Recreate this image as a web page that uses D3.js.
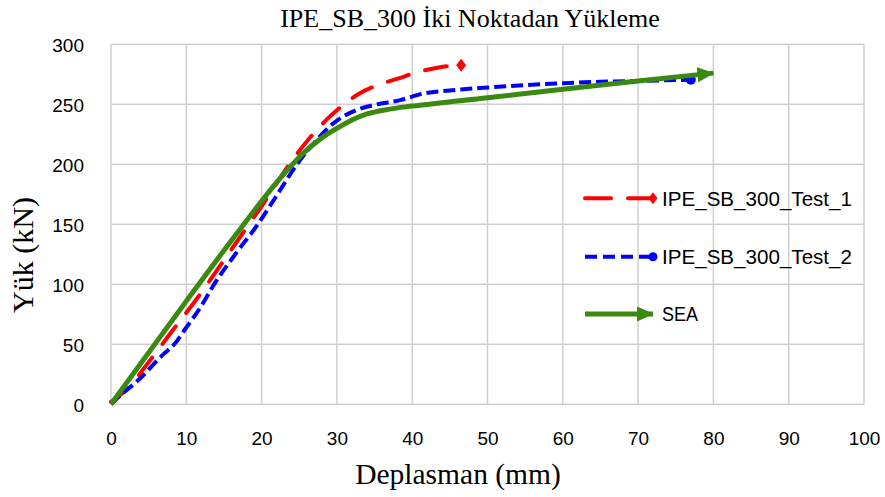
<!DOCTYPE html>
<html><head><meta charset="utf-8">
<script src="https://cdn.jsdelivr.net/npm/d3@7"></script>
<style>body{margin:0;background:#fff}</style>
</head><body>
<svg id="chart" width="885" height="497"></svg>
<script>
// ---- data ----
const xTicks = [0,10,20,30,40,50,60,70,80,90,100];
const yTicks = [0,50,100,150,200,250,300];
const seriesNames = ["IPE_SB_300_Test_1","IPE_SB_300_Test_2","SEA"];

const test1Disp = [0,2.5,4.5,8,11.4,15,18.2,20,23.8,26,28.6,30,33,35,38.4,40,43,45,46.5];
const test1Load = [2,15,31,60,88,120,149,165,201,219,237,245,259,265,272,275.5,280,282,282.5];

const test2Disp = [0,1,3.6,7,8.4,10,12,13.7,16.5,19.5,22,24.7,27,29.5,32.5,35,38.4,41.5,45,50,55,60,65,70,77];
const test2Load = [0,6,20,42,50,64,82,100,125,150,174,200,218,234,245,249.5,253.5,259,261.5,264,266,267.5,268.8,269.5,270.5];

const seaDisp = [0,10,18,22,25.5,28,30,32,34,37,40,50,60,70,80];
const seaLoad = [0,86,153,185,209,222,230,237,242,246,248.5,255.5,262.5,269.5,276];

// ---- layout ----
const svg = d3.select("#chart");
const L = 111, R = 864, T = 44.3, B = 404.3;
const x = d3.scaleLinear().domain([0,100]).range([L,R]);
const y = d3.scaleLinear().domain([0,300]).range([B,T]);
const gridColor = "#cfcfcf";
const sans = "'Liberation Sans', Arial, sans-serif";
const serif = "'Liberation Serif','Times New Roman',serif";

const defs = svg.append("defs");
defs.append("marker").attr("id","arrow").attr("markerUnits","userSpaceOnUse")
  .attr("viewBox","0 -8 17 16").attr("refX",16).attr("refY",0)
  .attr("markerWidth",17).attr("markerHeight",16).attr("orient","auto")
  .append("path").attr("d","M0,-7.5L17,0L0,7.5Z").attr("fill","#3a8a10");

// gridlines
svg.append("g").selectAll("line").data(xTicks).join("line")
  .attr("x1",d=>x(d)).attr("x2",d=>x(d)).attr("y1",T).attr("y2",B)
  .attr("stroke",gridColor).attr("stroke-width",1.5);
svg.append("g").selectAll("line").data(yTicks).join("line")
  .attr("x1",L).attr("x2",R).attr("y1",d=>y(d)).attr("y2",d=>y(d))
  .attr("stroke",gridColor).attr("stroke-width",1.5);

// axes (labels only)
const xAxis = svg.append("g").attr("transform",`translate(0,${B})`)
  .call(d3.axisBottom(x).tickValues(xTicks).tickSize(0));
const yAxis = svg.append("g").attr("transform",`translate(${L},0)`)
  .call(d3.axisLeft(y).tickValues(yTicks).tickSize(0).tickPadding(27));
[xAxis,yAxis].forEach(a=>{
  a.select(".domain").remove();
  a.selectAll("text").attr("font-family",sans).attr("font-size",19).attr("fill","#000");
});
yAxis.selectAll("text").attr("dy","0.36em");
xAxis.selectAll("text").attr("y",40.7).attr("dy",0);

// lines
const lineGen = d3.line().x(d=>x(d[0])).y(d=>y(d[1])).curve(d3.curveMonotoneX);
const s1 = test1Disp.map((d,i)=>[d,test1Load[i]]);
const s2 = test2Disp.map((d,i)=>[d,test2Load[i]]);
const s3 = seaDisp.map((d,i)=>[d,seaLoad[i]]);

const red = "#ff0000", blue = "#0000ff", green = "#3a8a10";
const diamond = (cx,cy,w,h)=>`M${cx},${cy-h/2}L${cx+w/2},${cy}L${cx},${cy+h/2}L${cx-w/2},${cy}Z`;
const e1 = s1[s1.length-1], e2 = s2[s2.length-1];

svg.append("path").datum(s1).attr("d",lineGen).attr("fill","none")
  .attr("stroke",red).attr("stroke-width",4).attr("stroke-linecap","round")
  .attr("stroke-dasharray","22,17");
svg.append("path").attr("d",diamond(x(e1[0]),y(e1[1]),10,13)).attr("fill",red);
svg.append("path").datum(s2).attr("d",lineGen).attr("fill","none")
  .attr("stroke",blue).attr("stroke-width",4).attr("stroke-dasharray","12,5");
svg.append("circle").attr("cx",x(e2[0])).attr("cy",y(e2[1])).attr("r",5).attr("fill",blue);
svg.append("path").datum(s3).attr("d",lineGen).attr("fill","none")
  .attr("stroke",green).attr("stroke-width",5).attr("marker-end","url(#arrow)");

// legend
const lg = svg.append("g");
const lgY = [198.3,256.7,314];
const lx0 = 585, lx1 = 653;
lg.append("line").attr("x1",lx0).attr("x2",lx1).attr("y1",lgY[0]).attr("y2",lgY[0])
  .attr("stroke",red).attr("stroke-width",4).attr("stroke-linecap","round").attr("stroke-dasharray","26,17");
lg.append("path").attr("d",diamond(lx1,lgY[0],9,12)).attr("fill",red);
lg.append("line").attr("x1",lx0).attr("x2",lx1).attr("y1",lgY[1]).attr("y2",lgY[1])
  .attr("stroke",blue).attr("stroke-width",4).attr("stroke-dasharray","12,6");
lg.append("circle").attr("cx",lx1).attr("cy",lgY[1]).attr("r",4.5).attr("fill",blue);
lg.append("line").attr("x1",lx0).attr("x2",lx1).attr("y1",lgY[2]).attr("y2",lgY[2])
  .attr("stroke",green).attr("stroke-width",5).attr("marker-end","url(#arrow)");
const lgWidths = [190,190,36];
lg.selectAll("text.lt").data(seriesNames).join("text").attr("class","lt")
  .attr("x",662).attr("y",(d,i)=>lgY[i]).attr("dy","0.36em")
  .attr("font-family",sans).attr("font-size",20)
  .attr("textLength",(d,i)=>lgWidths[i]).attr("lengthAdjust","spacingAndGlyphs")
  .text(d=>d);

// titles
svg.append("text").attr("x",470).attr("y",27).attr("text-anchor","middle")
  .attr("font-family",serif).attr("font-size",26)
  .text("IPE_SB_300 İki Noktadan Yükleme");
svg.append("text").attr("x",458).attr("y",483.5).attr("text-anchor","middle")
  .attr("font-family",serif).attr("font-size",29.5)
  .text("Deplasman (mm)");
svg.append("text").attr("transform","translate(33,255) rotate(-90)").attr("text-anchor","middle")
  .attr("font-family",serif).attr("font-size",30)
  .text("Yük (kN)");
</script>
</body></html>
